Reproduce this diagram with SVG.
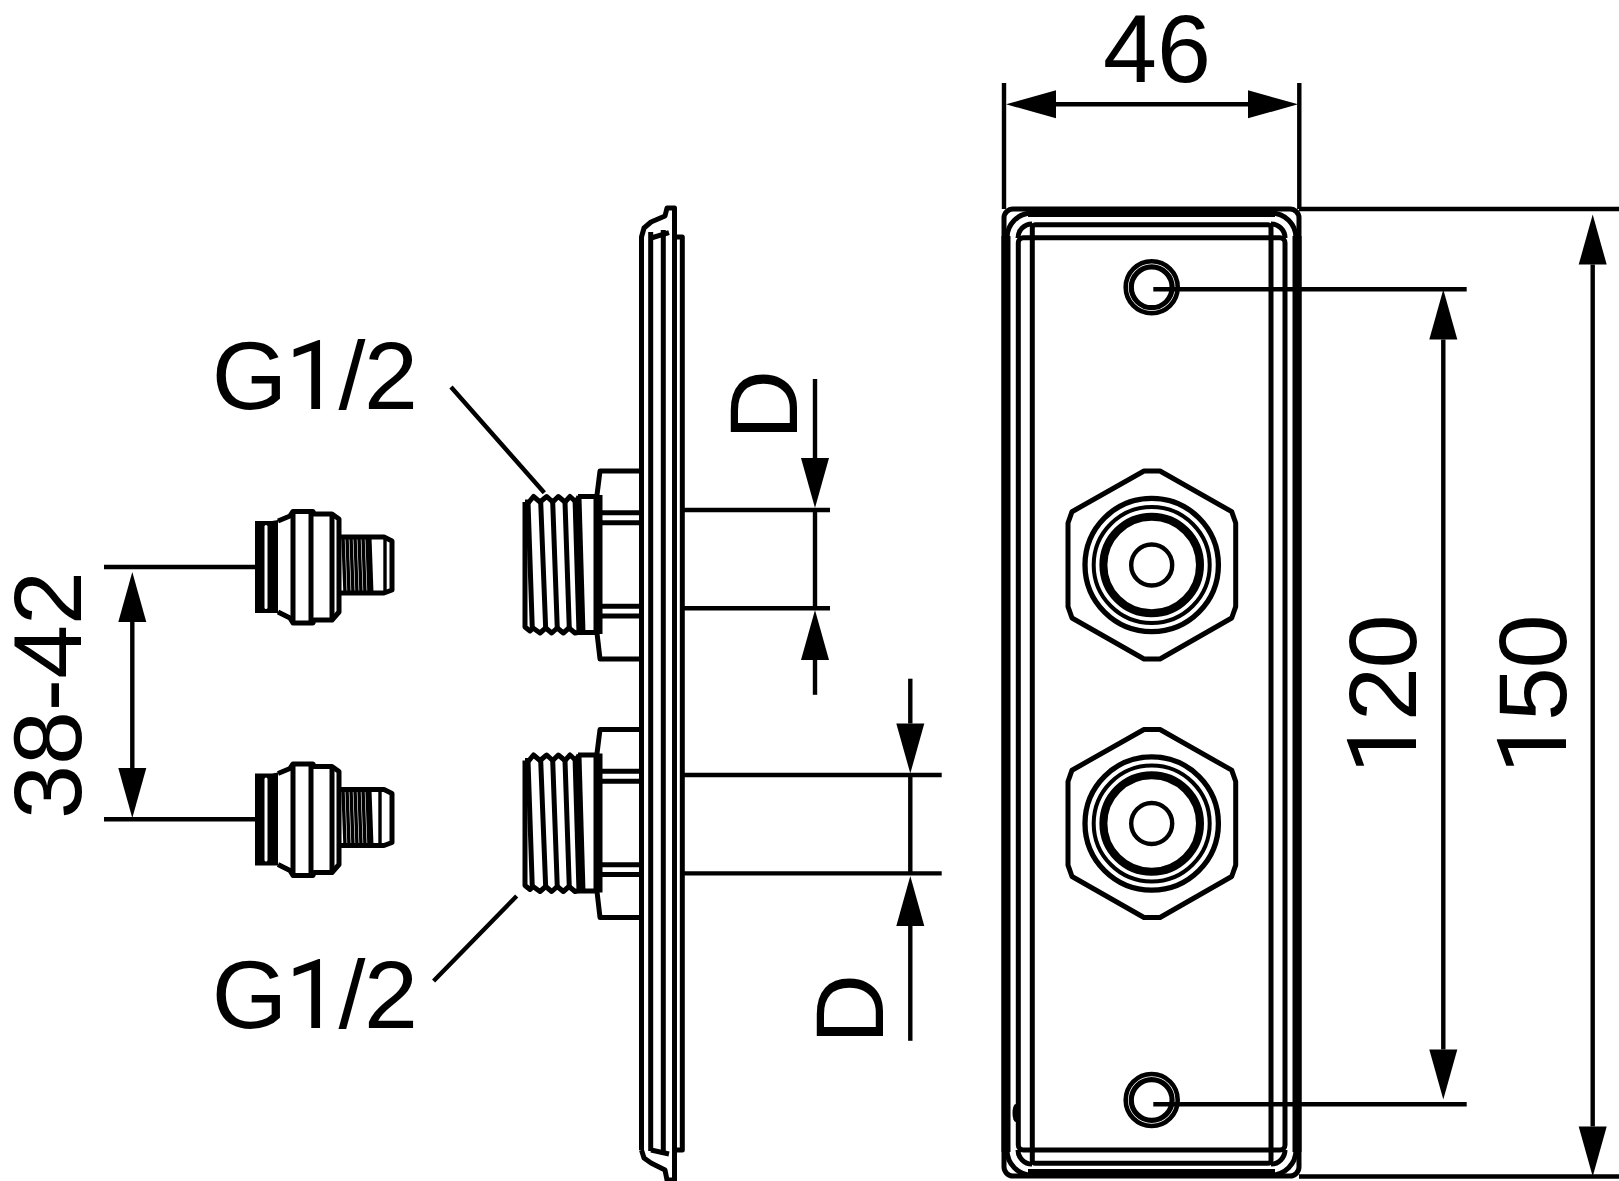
<svg xmlns="http://www.w3.org/2000/svg" xmlns:xlink="http://www.w3.org/1999/xlink" width="1619" height="1181" viewBox="0 0 1619 1181">
<style>
.l{fill:none;stroke:#000;stroke-width:5;stroke-linejoin:round;stroke-linecap:butt}
.t{stroke-width:3.4}
.m{stroke-width:9}
.d{fill:none;stroke:#000;stroke-width:4.4}
.a{marker-end:url(#h)}
.b{marker-start:url(#hs);marker-end:url(#h)}
.x{font-family:"Liberation Sans",Arial,sans-serif;font-size:97px;fill:#000;text-anchor:middle}
.s{letter-spacing:-1.6px}
.o{font-family:Roboto,"Liberation Sans",sans-serif}
.f{fill:#000}
.w{fill:#fff}
</style>
<defs>
<marker id="h" markerUnits="userSpaceOnUse" markerWidth="50" markerHeight="28" refX="0" refY="14" orient="auto" overflow="visible"><path d="M0 0L50 14L0 28z"/></marker>
<marker id="hs" markerUnits="userSpaceOnUse" markerWidth="50" markerHeight="28" refX="0" refY="14" orient="auto-start-reverse" overflow="visible"><path d="M0 0L50 14L0 28z"/></marker>
<g id="fit">
<path class="f" d="M255 521L272 521L278 520V613L272 613L255 613z"/>
<rect class="w" x="264.5" y="525" width="3" height="84" rx="1.5"/>
<path class="l" d="M278 521L290 516L293 511.5H313L314 514H332L339 519V612L332 620H314L313 623H293L290 618L278 612"/>
<path class="l" d="M293 512V622M311 512V622M332 515V619"/>
<path class="l" d="M339 537H384L392 541V590L384 593H339"/>
<path class="l t" d="M343 537L345 593M347 537L349 593M351 537L353 593M355 537L357 593M359 537L361 593M363 537L365 593M367 537L369 593"/>
<path class="l" d="M369 537L371 593"/>
</g>
<g id="nut">
<path class="l" d="M640 471H600L597 495V633L600 659H640"/>
<path class="l m" d="M598 495V634"/>
<path class="l" d="M600 512.7H640M600 522.7H640M600 606.3H640M600 616H640"/>
<path class="l" d="M578 496.5H596M578 632.5H596"/>
<path class="l" d="M525 502V627L530 631L533 628L540 633L545.7 628L551.7 633L557.3 628L563.3 633L569 628L575 633L578 632.5M525 502L529 502L533.5 496.5L540 502L546.7 496.5L552.7 502L558.3 496.5L565 502L570 496.5L576 502L579 496.5"/>
<path class="l" d="M528 502L532.3 629M540.7 502L545.7 629M552.7 502L557.3 629M565 502L569.3 629"/>
<path class="l m" d="M577 498L581 633"/>
</g>
<g id="hexn">
<path class="l" d="M1144 471H1160L1231.7 511.7L1235.7 523V606.7L1231.7 618L1160 659H1144L1072 618L1068 606.7V523L1072 511.7z"/>
<circle class="d" cx="1151.7" cy="565" r="66.7" style="stroke-width:5.3"/>
<circle class="d" cx="1151.7" cy="565" r="58" style="stroke-width:4"/>
<circle class="d" cx="1151.7" cy="565" r="48.3" style="stroke-width:8"/>
<circle class="d" cx="1151.7" cy="565" r="20.5"/>
</g>
<g id="hole">
<circle class="d" cx="1151.7" cy="287.3" r="26" style="stroke-width:4.6"/>
<circle class="d" cx="1151.7" cy="287.3" r="20.4" style="stroke-width:5.2"/>
</g>
</defs>
<rect class="w" width="1619" height="1181"/>
<g id="fitting-upper"><use xlink:href="#fit" href="#fit"/><path class="l t" d="M385 537V593"/></g>
<g id="fitting-lower"><use xlink:href="#fit" href="#fit" y="252.5"/><path class="l t" d="M380 789.5V845.5"/></g>
<g id="side-plate">
<path class="l" d="M641.5 1150V237L644 228L651 222L665 216L667 208H674.5V1180H667L665 1170L651 1163L644 1158L641.5 1150"/>
<path class="l" d="M650.7 232V1151M663.3 230V1155"/>
<path class="l" d="M651 238L669 232.7M651 1150L669 1154"/>
<path class="l" d="M674 237H682.3V1150H674"/>
</g>
<g id="nut-upper"><use xlink:href="#nut" href="#nut"/></g>
<g id="nut-lower"><use xlink:href="#nut" href="#nut" y="258.5"/></g>
<g id="front-plate">
<rect class="l" x="1004" y="209" width="295" height="967" rx="9"/>
<path class="l m" d="M1028 212.5H1275M1028 1173.5H1275M1006 236V1152M1297 236V1152"/>
<rect class="l" x="1018.3" y="237.7" width="266.7" height="912.3" rx="5"/>
<rect class="l" x="1032.3" y="224.7" width="238.7" height="938.6" rx="3"/>
<path class="l" d="M1007 238A25 25 0 0 1 1032 213M1018 238A14 14 0 0 1 1032 224"/>
<path class="l" d="M1271 213A25 25 0 0 1 1296 238M1271 224A14 14 0 0 1 1285 238"/>
<path class="l" d="M1007 1150A25 25 0 0 0 1032 1175M1018 1150A14 14 0 0 0 1032 1164"/>
<path class="l" d="M1271 1175A25 25 0 0 0 1296 1150M1271 1164A14 14 0 0 0 1285 1150"/>
<ellipse class="f" cx="1015.5" cy="1113" rx="3" ry="9"/>
</g>
<g id="holes">
<use xlink:href="#hole" href="#hole"/>
<use xlink:href="#hole" href="#hole" y="812.7"/>
</g>
<g id="port-upper"><use xlink:href="#hexn" href="#hexn"/></g>
<g id="port-lower"><use xlink:href="#hexn" href="#hexn" y="258.5"/></g>
<g id="connectors">
<path class="d" d="M104 567H255M104 819.3H255"/>
<path class="d b" d="M132.3 622V768"/>
<path class="d" d="M451 387L544.3 492.7M433.6 981L516.7 896"/>
<path class="d" d="M684 510H830M684 608.3H830M684 775H941.7M684 873.4H941.7"/>
<path class="d" d="M815 510V608M910.3 775V873"/>
<path class="d a" d="M815 379V458"/>
<path class="d a" d="M815 694.8V660"/>
<path class="d a" d="M910.3 678.7V723.5"/>
<path class="d a" d="M910.3 1040.8V926"/>
<path class="d" d="M1004 83V209M1299.3 83V209"/>
<path class="d b" d="M1056 104.3H1248"/>
<path class="d" d="M1299 209H1619M1299 1176.5H1619"/>
<path class="d" d="M1153.3 289.2H1466.7M1153.3 1104.2H1466.7"/>
<path class="d b" d="M1443.3 339.5V1049.5"/>
<path class="d b" d="M1592.7 264.6V1126.6"/>
</g>
<g id="labels">
<text class="x" transform="translate(81,695) rotate(-90)">38-42</text>
<text class="x s" x="314" y="409">G<tspan class="o">1</tspan>/2</text>
<text class="x s" x="314" y="1028">G<tspan class="o">1</tspan>/2</text>
<text class="x" transform="translate(796.7,405) rotate(-90)">D</text>
<text class="x" transform="translate(882.7,1009) rotate(-90)">D</text>
<text class="x" x="1157" y="81.5">46</text>
<text class="x s" transform="translate(1416,695) rotate(-90)"><tspan class="o">1</tspan>20</text>
<text class="x s" transform="translate(1566,695) rotate(-90)"><tspan class="o">1</tspan>50</text>
</g>
</svg>
